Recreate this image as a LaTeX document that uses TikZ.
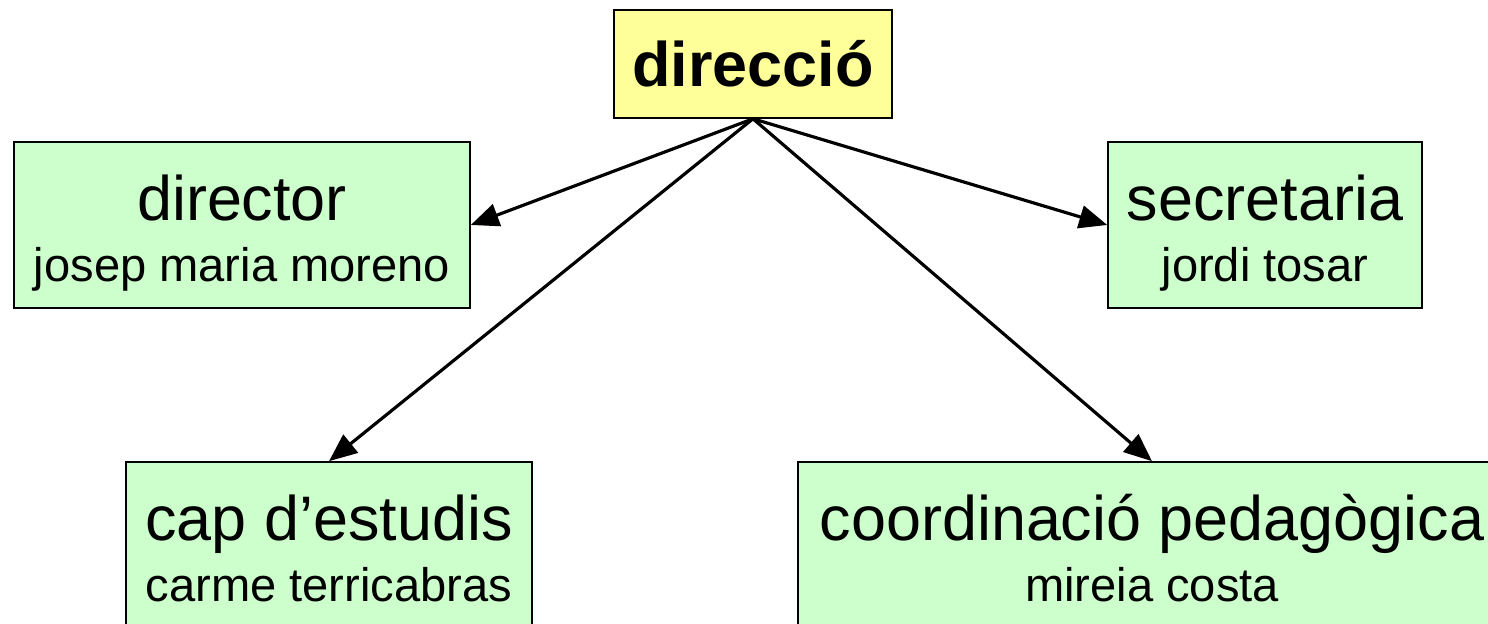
\documentclass[tikz,border=0pt]{standalone}
\usepackage{fontspec}
\setmainfont{Liberation Sans}
\usetikzlibrary{arrows.meta}
\definecolor{boxgreen}{RGB}{204,255,204}
\definecolor{boxyellow}{RGB}{255,255,153}
\newcommand{\boxtext}[2]{{\fontsize{17.9}{17.4}\selectfont\rule{0pt}{18pt}#1}\\\rule[-3pt]{0pt}{3pt}#2}

\begin{document}
\begin{tikzpicture}[
    box/.style={draw, line width=0.45pt, fill=boxgreen, align=center, minimum height=1.66cm, inner sep=0pt, font=\fontsize{13.4}{17.4}\selectfont},
    arr/.style={line width=0.9pt, -{Triangle[length=0.28cm,width=0.23cm]}}]
    \useasboundingbox (0,0) rectangle (14.88,6.24);
    \node[box, fill=boxyellow, minimum width=2.78cm, minimum height=1.08cm, font=\bfseries\fontsize{17.9}{20}\selectfont] (direccio) at (7.53,5.60) {direcció}; % top box
    \node[box, minimum width=4.56cm] (director) at (2.42,3.99) {\boxtext{director}{josep maria moreno}}; % left
    \node[box, minimum width=3.14cm] (secretaria) at (12.65,3.99) {\boxtext{secretaria}{jordi tosar}}; % right
    \node[box, minimum width=4.06cm] (cap) at (3.29,0.79) {\boxtext{cap d’estudis}{carme terricabras}}; % bottom left
    \node[box, minimum width=7.08cm] (coord) at (11.52,0.79) {\boxtext{coordinació pedagògica}{mireia costa}}; % bottom right
    \draw[arr] (direccio.south) -- (director.east); % to director
    \draw[arr] (direccio.south) -- (secretaria.west); % to secretaria
    \draw[arr] (direccio.south) -- (cap.north); % to cap d'estudis
    \draw[arr] (direccio.south) -- (coord.north); % to coordinacio
\end{tikzpicture}
\end{document}
